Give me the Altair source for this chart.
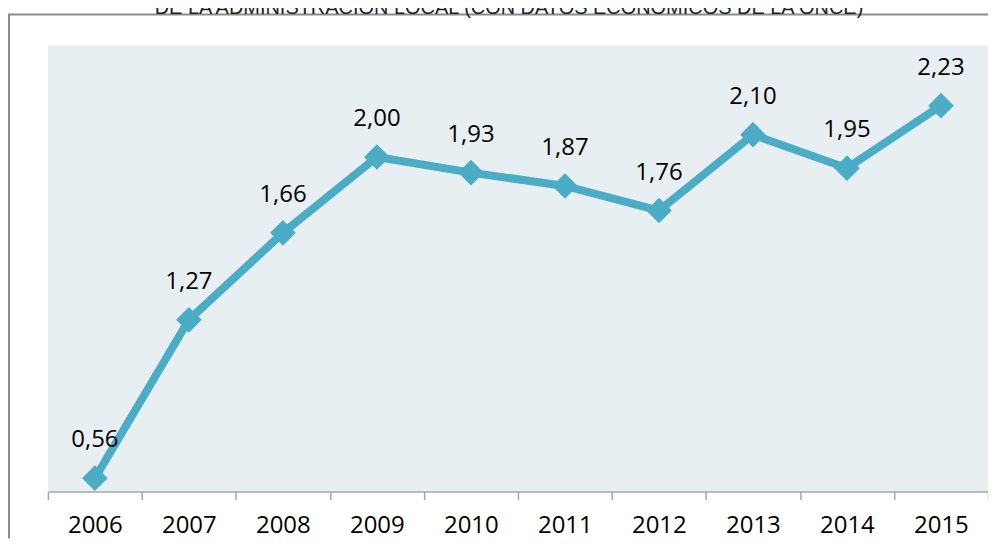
import altair as alt
import pandas as pd

years = [2006, 2007, 2008, 2009, 2010, 2011, 2012, 2013, 2014, 2015]
values = [0.56, 1.27, 1.66, 2.00, 1.93, 1.87, 1.76, 2.10, 1.95, 2.23]
labels = ["0,56", "1,27", "1,66", "2,00", "1,93", "1,87", "1,76", "2,10", "1,95", "2,23"]
title_text = "DE LA ADMINISTRACIÓN LOCAL (CON DATOS ECONÓMICOS DE LA ONCE)"

df = pd.DataFrame({"year": years, "value": values, "label": labels})

COLOR = "#4BACC6"
FONT = "Open Sans"

boundaries = [y - 0.5 for y in years] + [years[-1] + 0.5]

x = alt.X(
    "year:Q",
    scale=alt.Scale(domain=[years[0] - 0.5, years[-1] + 0.5], nice=False, zero=False),
    axis=alt.Axis(
        values=boundaries,
        labelExpr="datum.value < 2015 ? format(datum.value + 0.5, 'd') : ''",
        labelOffset=47,
        labelFlush=False,
        labelOverlap=False,
        labelFont=FONT,
        labelFontSize=24,
        labelColor="#000000",
        labelPadding=14,
        tickSize=8,
        tickColor="#a6a6a6",
        tickWidth=1.5,
        domainColor="#a6a6a6",
        domainWidth=1.5,
        grid=False,
        title=None,
    ),
)
y = alt.Y("value:Q", scale=alt.Scale(domain=[0.5, 2.5], nice=False, zero=False), axis=None)

base = alt.Chart(df)
line = base.mark_line(color=COLOR, strokeWidth=8).encode(x=x, y=y)
pts = base.mark_point(shape="diamond", filled=True, color=COLOR, size=660, opacity=1).encode(x=x, y=y)
txt = base.mark_text(font=FONT, fontSize=24, color="#000000", baseline="middle", dy=-38).encode(
    x=x, y=y, text="label:N"
)

frame_top = alt.Chart(alt.Data(values=[{}])).mark_rule(color="#8c8c8c", strokeWidth=2).encode(
    x=alt.value(-39), x2=alt.value(942), y=alt.value(-31)
)
frame_left = alt.Chart(alt.Data(values=[{}])).mark_rule(color="#8c8c8c", strokeWidth=2).encode(
    x=alt.value(-39), y=alt.value(-32), y2=alt.value(494)
)

title = alt.Chart(alt.Data(values=[{}])).mark_text(
    font="Liberation Sans", fontSize=20, color="#222222", align="center", baseline="alphabetic"
).encode(x=alt.value(462), y=alt.value(-32), text=alt.value(title_text))

chart = (
    alt.layer(frame_top, frame_left, title, line, pts, txt)
    .properties(
        width=942,
        height=447,
        padding={"left": 40, "top": 37, "right": 0, "bottom": 47},
        autosize=alt.AutoSizeParams(type="none"),
    )
    .configure_view(strokeWidth=0, fill="#e8eff2")
)

chart.save("out.html", embed_options={"renderer": "svg", "actions": False})
